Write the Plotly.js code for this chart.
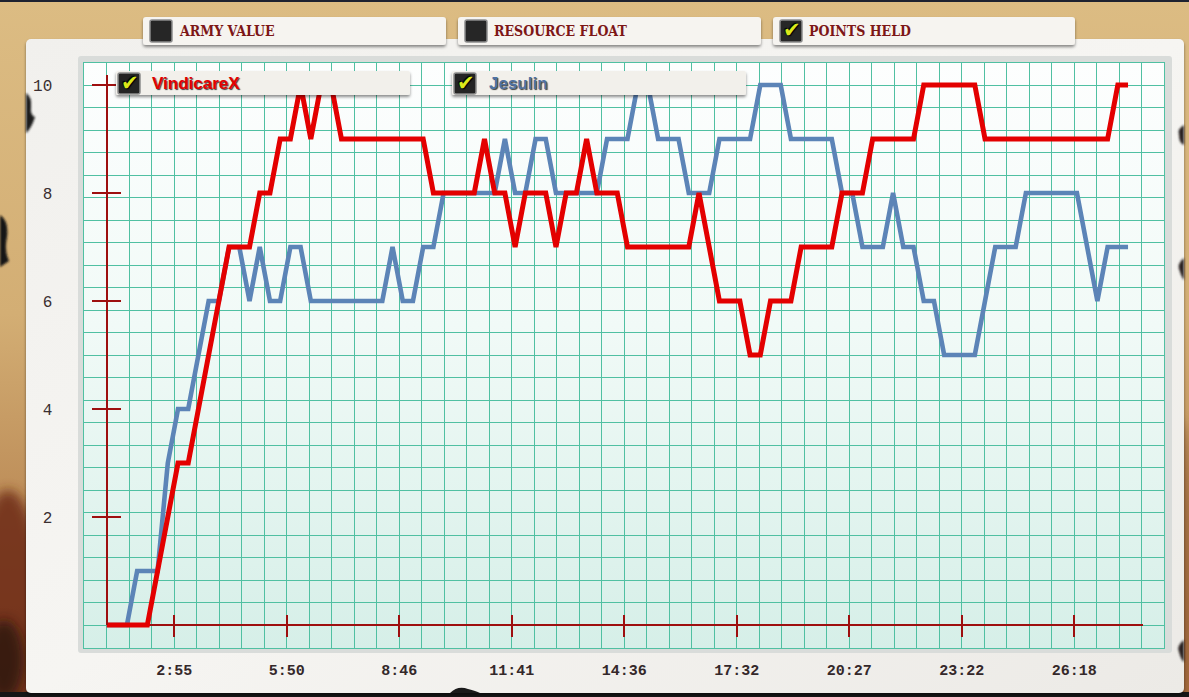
<!DOCTYPE html>
<html>
<head>
<meta charset="utf-8">
<script src="https://cdn.plot.ly/plotly-3.0.1.min.js"></script>
<style>
html,body{margin:0;padding:0;background:#d8b77c;}
#chart{width:1189px;height:697px;}
</style>
</head>
<body>
<div id="chart"></div>
<script>
// ---------------- data ----------------
const seriesNames = ['VindicareX', 'Jesulin'];
const tabLabels = ['ARMY VALUE', 'RESOURCE FLOAT', 'POINTS HELD'];
const tabChecked = [false, false, true];

// sampling of the points-held series (seconds)
const sampleStart = 69.7;
const sampleStep = 15.92;

// points held by VindicareX (red), one value per sample
const vindicareX = [0,0,0,0,0, 1,2,3, 3, 4,5,6,7, 7,7, 8,8, 9,9, 10, 9, 10,10,
  9,9,9,9,9,9,9,9,9, 8,8,8,8,8, 9, 8,8, 7, 8,8,8, 7, 8,8, 9, 8,8,8,
  7,7,7,7,7,7,7, 8, 7, 6,6,6, 5,5, 6,6,6, 7,7,7,7, 8,8,8, 9,9,9,9,9,
  10,10,10,10,10,10, 9,9,9,9,9,9,9,9,9,9,9,9,9, 10,10];

// points held by Jesulin (blue)
const jesulin = [0,0,0, 1,1,1, 3, 4,4, 5, 6,6, 7,7, 6, 7, 6,6, 7,7,
  6,6,6,6,6,6,6,6, 7, 6,6, 7,7, 8,8,8,8,8,8, 9, 8,8, 9,9, 8,8,8,8,8,
  9,9,9, 10,10, 9,9,9, 8,8,8, 9,9,9,9, 10,10,10, 9,9,9,9,9, 8,8,
  7,7,7, 8, 7,7, 6,6, 5,5,5,5, 6, 7,7,7, 8,8,8,8,8,8, 7, 6, 7,7,7];

// x axis tick labels (game time) and their positions in seconds
const timeTickLabels = ['2:55','5:50','8:46','11:41','14:36','17:32','20:27','23:22','26:18'];
const timeTickSeconds = [175.33, 350.67, 526, 701.33, 876.67, 1052, 1227.33, 1402.67, 1578];

// y axis ticks
const pointTickValues = [2, 4, 6, 8, 10];
const pointTickLabels = ['2', '4', '6', '8', '10'];

// ---------------- styling ----------------
const W = 1189, H = 697;
const px = v => v / W;          // horizontal pixel -> paper
const py = v => (H - v) / H;    // vertical pixel -> paper

const AXIS_RED = '#9e0f0f';
const GRID_TEAL = '#50c0a2';
const RED = '#e30000';
const BLUE = '#5c84b7';
const typeFont = 'Liberation Mono, DejaVu Sans Mono, monospace';

const bgSvg = `
<svg xmlns="http://www.w3.org/2000/svg" width="1189" height="697" viewBox="0 0 1189 697">
<defs>
<linearGradient id="bd" x1="0" y1="0" x2="0" y2="1">
<stop offset="0" stop-color="#dcbc83"/><stop offset="0.45" stop-color="#d3ae74"/><stop offset="1" stop-color="#a66b3c"/>
</linearGradient>
<linearGradient id="mint" x1="0" y1="0" x2="0" y2="1">
<stop offset="0" stop-color="#fdfefe"/><stop offset="0.45" stop-color="#f1faf7"/><stop offset="1" stop-color="#d6efe8"/>
</linearGradient>
<linearGradient id="paper" x1="0" y1="0" x2="1" y2="1">
<stop offset="0" stop-color="#f1f0ed"/><stop offset="0.5" stop-color="#f6f5f2"/><stop offset="1" stop-color="#eceae6"/>
</linearGradient>
<filter id="b6" x="-50%" y="-50%" width="200%" height="200%"><feGaussianBlur stdDeviation="6"/></filter>
<filter id="b1" x="-50%" y="-50%" width="200%" height="200%"><feGaussianBlur stdDeviation="1"/></filter>
<filter id="ds" x="-10%" y="-40%" width="120%" height="200%"><feDropShadow dx="0" dy="2" stdDeviation="1.6" flood-color="#000" flood-opacity="0.45"/></filter>
</defs>
<rect width="1189" height="697" fill="url(#bd)"/>
<ellipse cx="8" cy="610" rx="34" ry="120" fill="#6d2a12" opacity="0.85" filter="url(#b6)"/>
<ellipse cx="4" cy="660" rx="20" ry="40" fill="#2a120a" opacity="0.8" filter="url(#b6)"/>
<ellipse cx="1180" cy="560" rx="14" ry="140" fill="#8a5630" opacity="0.6" filter="url(#b6)"/>
<path d="M0 215 q9 6 7 22 q-3 14 2 24 l-9 6 z" fill="#141414" filter="url(#b1)"/>
<rect x="0" y="0" width="1189" height="2" fill="#1d2230"/>
<rect x="0" y="692" width="1189" height="5" fill="#161616"/>
<rect x="26" y="39" width="1158" height="654" rx="5" fill="url(#paper)" filter="url(#ds)"/>
<path d="M26 93 q6 4 5 14 q-1 8 4 10 q-4 12 -9 16 z" fill="#1a1a1a" filter="url(#b1)"/>
<path d="M1184 125 q-7 4 -5 10 q0 8 5 10 z" fill="#2a2420" filter="url(#b1)"/>
<path d="M1184 258 q-8 6 -4 14 q2 6 4 8 z" fill="#2a2420" filter="url(#b1)"/>
<path d="M1184 640 q-8 6 -5 12 q2 8 5 10 z" fill="#2a2420" filter="url(#b1)"/>
<path d="M450 693 q8 -8 18 -4 q8 2 12 4 z" fill="#1a1a1a"/>
<rect x="78" y="56" width="1094" height="597" rx="3" fill="#d9dcda"/>
<rect x="84" y="62" width="1081" height="586" fill="url(#mint)"/>
<g filter="url(#ds)">
<rect x="143" y="17" width="303" height="28" rx="3" fill="#f6f4f0"/>
<rect x="458" y="17" width="303" height="28" rx="3" fill="#f6f4f0"/>
<rect x="773" y="17" width="302" height="28" rx="3" fill="#f6f4f0"/>
</g>
<g fill="#262626" stroke="#8c8c8c" stroke-width="1.5">
<rect x="150" y="20" width="22" height="22" rx="2"/>
<rect x="465" y="20" width="22" height="22" rx="2"/>
<rect x="780" y="20" width="22" height="22" rx="2"/>
</g>
</svg>`;

const fgSvg = `
<svg xmlns="http://www.w3.org/2000/svg" width="1189" height="697" viewBox="0 0 1189 697">
<defs>
<filter id="ds" x="-10%" y="-40%" width="120%" height="200%"><feDropShadow dx="0" dy="2" stdDeviation="1.6" flood-color="#000" flood-opacity="0.45"/></filter>
</defs>
<g filter="url(#ds)">
<rect x="116" y="71" width="294" height="24" rx="2" fill="#f2f0eb"/>
<rect x="452" y="71" width="294" height="24" rx="2" fill="#f2f0eb"/>
</g>
<g fill="#242424" stroke="#8c8c8c" stroke-width="1.5">
<rect x="118" y="73" width="22" height="21" rx="2"/>
<rect x="454" y="73" width="22" height="21" rx="2"/>
</g>
</svg>`;

const svgUri = s => 'data:image/svg+xml;charset=utf-8,' + encodeURIComponent(s);

// ---------------- traces ----------------
const traces = [
  // grid subplot anchor (no data)
  {x: [], y: [], xaxis: 'x', yaxis: 'y', type: 'scatter', hoverinfo: 'skip', showlegend: false},
  {
    name: seriesNames[1], type: 'scatter', mode: 'lines',
    x0: sampleStart, dx: sampleStep, y: jesulin,
    xaxis: 'x2', yaxis: 'y2',
    line: {color: BLUE, width: 4.6, shape: 'linear'},
    hoverinfo: 'skip', showlegend: false
  },
  {
    name: seriesNames[0], type: 'scatter', mode: 'lines',
    x0: sampleStart, dx: sampleStep, y: vindicareX,
    xaxis: 'x2', yaxis: 'y2',
    line: {color: RED, width: 5, shape: 'linear'},
    hoverinfo: 'skip', showlegend: false
  },
  // axes-only helpers for the crossing tick marks
  {x: [], y: [], xaxis: 'x2', yaxis: 'y3', type: 'scatter', hoverinfo: 'skip', showlegend: false},
  {x: [], y: [], xaxis: 'x2', yaxis: 'y4', type: 'scatter', hoverinfo: 'skip', showlegend: false},
  {x: [], y: [], xaxis: 'x3', yaxis: 'y2', type: 'scatter', hoverinfo: 'skip', showlegend: false}
];

// ---------------- layout ----------------
const xRange = [sampleStart, sampleStart + (1142.7 - 106.5) / 0.64167];
const xTickFont = {family: typeFont, size: 15, color: '#34282a', weight: 'bold'};
const yTickFont = {family: typeFont, size: 16, color: '#3a2e30'};

const annotations = [];
const tabX = [177, 492, 807];
const tabBoxX = [161, 476, 791];
tabLabels.forEach((t, i) => {
  annotations.push({
    text: t, xref: 'paper', yref: 'paper', x: px(tabX[i]), y: py(31),
    xanchor: 'left', yanchor: 'middle', showarrow: false,
    font: {family: 'DejaVu Serif Condensed, DejaVu Serif, serif', size: 14, color: '#7d1717', weight: 'bold'}
  });
  if (tabChecked[i]) {
    annotations.push({
      text: '✔', xref: 'paper', yref: 'paper', x: px(tabBoxX[i] + 1), y: py(30),
      xanchor: 'center', yanchor: 'middle', showarrow: false,
      font: {family: 'DejaVu Sans', size: 21, color: '#dbe81a', shadow: '1px 1px 1px #000, -1px -1px 1px #000'}
    });
  }
});
const legX = [150, 487];
const legBoxX = [129, 465];
const legColors = [RED, '#4f72a3'];
seriesNames.forEach((n, i) => {
  annotations.push({
    text: n, xref: 'paper', yref: 'paper', x: px(legX[i]), y: py(84),
    xanchor: 'left', yanchor: 'middle', showarrow: false,
    font: {family: 'Liberation Sans, Arial, sans-serif', size: 17, color: legColors[i], weight: 'bold',
           shadow: '1px 1px 1px rgba(0,0,0,0.75)'}
  });
  annotations.push({
    text: '✔', xref: 'paper', yref: 'paper', x: px(legBoxX[i] + 1), y: py(83),
    xanchor: 'center', yanchor: 'middle', showarrow: false,
    font: {family: 'DejaVu Sans', size: 21, color: '#dbe81a', shadow: '1px 1px 1px #000, -1px -1px 1px #000'}
  });
});

const layout = {
  width: W, height: H, autosize: false,
  margin: {l: 0, r: 0, t: 0, b: 0, pad: 0},
  paper_bgcolor: '#d8b77c',
  plot_bgcolor: 'rgba(0,0,0,0)',
  showlegend: false,
  images: [
    {source: svgUri(bgSvg), xref: 'paper', yref: 'paper', x: 0, y: 1, sizex: 1, sizey: 1,
     xanchor: 'left', yanchor: 'top', sizing: 'stretch', layer: 'below'},
    {source: svgUri(fgSvg), xref: 'paper', yref: 'paper', x: 0, y: 1, sizex: 1, sizey: 1,
     xanchor: 'left', yanchor: 'top', sizing: 'stretch', layer: 'above'}
  ],
  // graph-paper grid (22.5 px squares)
  xaxis: {
    domain: [px(84.3), px(1164.3)], range: [0, 48], anchor: 'y',
    tick0: 0, dtick: 1, showgrid: true, gridcolor: GRID_TEAL, gridwidth: 1,
    showticklabels: false, ticks: '', zeroline: false,
    showline: true, mirror: true, linecolor: GRID_TEAL, linewidth: 1, fixedrange: true
  },
  yaxis: {
    domain: [py(647.5), py(62.5)], range: [0, 26], anchor: 'x',
    tick0: 0, dtick: 1, showgrid: true, gridcolor: GRID_TEAL, gridwidth: 1,
    showticklabels: false, ticks: '', zeroline: false,
    showline: true, mirror: true, linecolor: GRID_TEAL, linewidth: 1, fixedrange: true
  },
  // data x axis (time)
  xaxis2: {
    domain: [px(106.5), px(1142.7)], range: xRange, anchor: 'free', position: py(625),
    showgrid: false, zeroline: false, showline: true, linecolor: AXIS_RED, linewidth: 2,
    ticks: 'outside', ticklen: 11, tickwidth: 2, tickcolor: AXIS_RED,
    tickvals: timeTickSeconds, ticktext: timeTickLabels, tickfont: xTickFont,
    ticklabelstandoff: 20, layer: 'below traces', fixedrange: true
  },
  // data y axis (hidden; extends a little below zero so the zero line is not clipped)
  yaxis2: {
    domain: [py(640), py(70)], range: [-15 / 54, 555 / 54], anchor: 'x2',
    visible: false, fixedrange: true
  },
  // visible points axis
  yaxis3: {
    domain: [py(625), py(75)], range: [0, 550 / 54], anchor: 'free', position: px(106.5), side: 'left',
    showgrid: false, zeroline: false, showline: true, linecolor: AXIS_RED, linewidth: 2,
    ticks: 'outside', ticklen: 14, tickwidth: 2, tickcolor: AXIS_RED,
    tickvals: pointTickValues, ticktext: pointTickLabels, tickfont: yTickFont,
    ticklabelstandoff: 36, fixedrange: true
  },
  yaxis4: {
    overlaying: 'y3', range: [0, 550 / 54], anchor: 'free', position: px(106.5), side: 'left',
    showgrid: false, zeroline: false, showline: false, showticklabels: false,
    ticks: 'inside', ticklen: 13, tickwidth: 2, tickcolor: AXIS_RED,
    tickvals: pointTickValues, fixedrange: true
  },
  xaxis3: {
    overlaying: 'x2', range: xRange, anchor: 'free', position: py(625),
    showgrid: false, zeroline: false, showline: false, showticklabels: false,
    ticks: 'inside', ticklen: 10, tickwidth: 2, tickcolor: AXIS_RED,
    tickvals: timeTickSeconds, fixedrange: true
  },
  annotations: annotations
};

Plotly.newPlot('chart', traces, layout, {displayModeBar: false, staticPlot: true});
</script>
</body>
</html>
